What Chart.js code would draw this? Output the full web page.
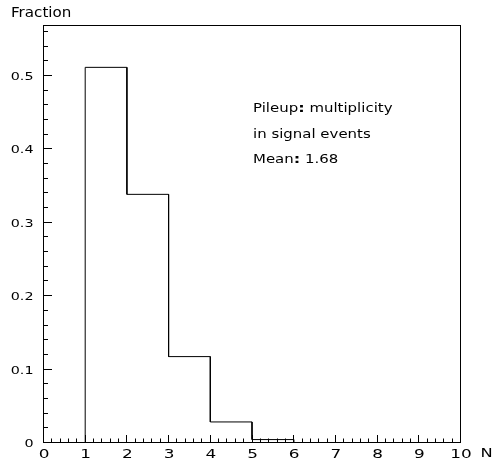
<!DOCTYPE html>
<html>
<head>
<meta charset="utf-8">
<script src="https://cdn.jsdelivr.net/npm/chart.js@4.4.1/dist/chart.umd.min.js"></script>
<style>
  html, body { margin: 0; padding: 0; background: #fff; }
  #wrap { width: 494px; height: 462px; }
</style>
</head>
<body>
<div id="wrap"><canvas id="c" width="494" height="462"></canvas></div>
<script>
// Pileup multiplicity histogram: one bin per integer N
const binEdges = [0, 1, 2, 3, 4, 5, 6, 7, 8, 9, 10];
const fractions = [0, 0.511, 0.338, 0.117, 0.028, 0.004, 0, 0, 0, 0];

// Axis ticks
const xTicks = [0, 1, 2, 3, 4, 5, 6, 7, 8, 9, 10];
const yTicks = [0, 0.1, 0.2, 0.3, 0.4, 0.5];
const xTickLabels = ["0", "1", "2", "3", "4", "5", "6", "7", "8", "9", "10"];
const yTickLabels = ["0", "0.1", "0.2", "0.3", "0.4", "0.5"];
const xMinorPerMajor = 5;
const yMinorPerMajor = 5;
const yMax = 0.568;

// Text
const yTitle = "Fraction";
const xTitle = "N";
const noteLines = ["Pileup: multiplicity", "in signal events", "Mean: 1.68"];

// Histogram outline: each bin contributes its left and right top corners
const outline = [];
fractions.forEach((v, i) => {
  outline.push({ x: binEdges[i], y: v });
  outline.push({ x: binEdges[i + 1], y: v });
});

const FONT = "'DejaVu Sans', sans-serif";

// Draws text with a horizontal stretch (wide, round lettering); returns drawn width
function drawText(ctx, text, x, y, size, stretch, align, weight) {
  ctx.save();
  ctx.font = (weight ? weight + ' ' : '') + size + 'px ' + FONT;
  const w = ctx.measureText(text).width * stretch;
  const x0 = align === 'right' ? x - w : align === 'center' ? x - w / 2 : x;
  ctx.translate(x0, y);
  ctx.scale(stretch, 1);
  ctx.textAlign = 'left';
  ctx.textBaseline = 'alphabetic';
  ctx.fillStyle = '#000';
  ctx.fillText(text, 0, 0);
  ctx.restore();
  return w;
}

const framePlugin = {
  id: 'frame',
  afterDraw(chart) {
    const ctx = chart.ctx;
    const a = chart.chartArea;
    const xs = chart.scales.x, ys = chart.scales.y;
    ctx.save();
    ctx.strokeStyle = '#000';
    ctx.lineWidth = 1;
    // frame
    ctx.strokeRect(a.left, a.top, a.right - a.left, a.bottom - a.top);

    // inward ticks on the bottom axis
    ctx.beginPath();
    for (let i = 0; i < xTicks.length - 1; i++) {
      const lo = xTicks[i], hi = xTicks[i + 1];
      for (let k = 0; k < xMinorPerMajor; k++) {
        const v = lo + (hi - lo) * k / xMinorPerMajor;
        const px = Math.floor(xs.getPixelForValue(v)) + 0.5;
        const len = k === 0 ? 7.5 : 4;
        ctx.moveTo(px, a.bottom);
        ctx.lineTo(px, a.bottom - len);
      }
    }
    // inward ticks on the left axis
    const yStep = yTicks[1] - yTicks[0];
    const yMinor = yStep / yMinorPerMajor;
    const nY = Math.floor(yMax / yMinor + 1e-6);
    for (let k = 0; k <= nY; k++) {
      const v = k * yMinor;
      const py = Math.floor(ys.getPixelForValue(v)) + 0.5;
      const len = k % yMinorPerMajor === 0 ? 8.5 : 4.5;
      ctx.moveTo(a.left, py);
      ctx.lineTo(a.left + len, py);
    }
    ctx.stroke();
    ctx.restore();

    // tick labels
    xTicks.forEach((v, i) => {
      drawText(ctx, xTickLabels[i], xs.getPixelForValue(v) + 0.5, 457.5, 12.5, 1.35, 'center');
    });
    yTicks.forEach((v, i) => {
      drawText(ctx, yTickLabels[i], 33.5, ys.getPixelForValue(v) + 4.5, 11, 1.3, 'right');
    });

    // axis titles
    drawText(ctx, yTitle, 11, 17.3, 13.5, 1.12, 'left');
    drawText(ctx, xTitle, 480.5, 457, 13, 1.25, 'left');

    // note, with bold colons
    const baselines = [112.3, 137.5, 163.3];
    noteLines.forEach((line, i) => {
      let x = 253;
      line.split(/(:)/).forEach(p => {
        if (!p) return;
        x += drawText(ctx, p, x, baselines[i], p === ':' ? 12.5 : 11.5, 1.3, 'left', p === ':' ? 'bold' : '');
      });
    });
  }
};

new Chart(document.getElementById('c'), {
  type: 'line',
  data: {
    datasets: [{
      data: outline,
      borderColor: '#000',
      borderWidth: 1,
      pointRadius: 0,
      fill: false,
      tension: 0
    }]
  },
  options: {
    responsive: false,
    animation: false,
    devicePixelRatio: 1,
    layout: { padding: { top: 25.5, right: 33.5, left: 0, bottom: 0 } },
    plugins: { legend: { display: false }, tooltip: { enabled: false } },
    scales: {
      x: {
        type: 'linear',
        min: 0,
        max: 10,
        grid: { display: false },
        border: { display: false },
        ticks: { display: false },
        afterBuildTicks: s => { s.ticks = xTicks.map(v => ({ value: v })); },
        afterFit: s => { s.height = 19.5; }
      },
      y: {
        type: 'linear',
        min: 0,
        max: yMax,
        grid: { display: false },
        border: { display: false },
        ticks: { display: false },
        afterBuildTicks: s => { s.ticks = yTicks.map(v => ({ value: v })); },
        afterFit: s => { s.width = 43.5; }
      }
    }
  },
  plugins: [framePlugin]
});
</script>
</body>
</html>
